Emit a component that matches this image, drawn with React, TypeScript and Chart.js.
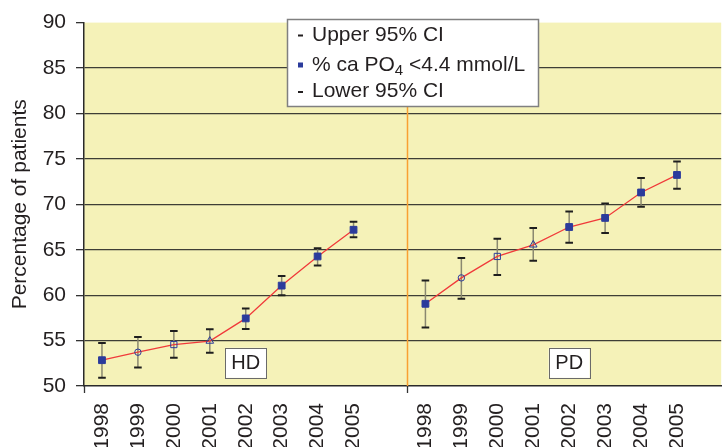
import React, { useEffect, useRef } from 'react';
import { Chart, registerables } from 'chart.js';

Chart.register(...registerables);

// ---- data ----
const categories = ['1998', '1999', '2000', '2001', '2002', '2003', '2004', '2005', '', '1998', '1999', '2000', '2001', '2002', '2003', '2004', '2005'];
const groupLabels = ['HD', 'PD'];
const groupLabelIndex = [4, 13]; // category index under which each group label sits
const groupSeparatorIndex = 8.5;

const hdValues = [52.84, 53.72, 54.56, 54.95, 57.44, 61.05, 64.26, 67.2];
const hdUpper = [54.74, 55.4, 56.05, 56.24, 58.53, 62.1, 65.17, 68.07];
const hdLower = [50.9, 52.04, 53.1, 53.65, 56.27, 59.99, 63.27, 66.38];

const pdValues = [59.05, 61.9, 64.26, 65.54, 67.5, 68.5, 71.3, 73.23];
const pdUpper = [61.6, 64.1, 66.2, 67.4, 69.2, 70.1, 72.9, 74.7];
const pdLower = [56.45, 59.6, 62.23, 63.8, 65.77, 66.85, 69.74, 71.7];

const markerStyles = ['rect', 'circle', 'rect', 'triangle', 'rect', 'rect', 'rect', 'rect'];
const markerFilled = [true, false, false, false, true, true, true, true];

const yMin = 50;
const yMax = 90;
const yStep = 5;

const legendTexts = ['Upper 95% CI', '% ca PO', '4', ' <4.4 mmol/L', 'Lower 95% CI'];

// ---- styles ----
const FONT = '"Liberation Sans", Arial, Helvetica, sans-serif';
const PLOT_BG = '#f5f2b8';
const BLUE = '#2b3b9c';
const RED = '#f03a3a';
const GRID = '#3e3e36';
const ORANGE = '#f9a032';

const values = [...hdValues, null, ...pdValues];
const uppers = [...hdUpper, null, ...pdUpper];
const lowers = [...hdLower, null, ...pdLower];
const styles = [...markerStyles, 'rect', ...markerStyles];
const filled = [...markerFilled, true, ...markerFilled];

export default function App() {
  const canvasRef = useRef<HTMLCanvasElement | null>(null);

  useEffect(() => {
    const canvas = canvasRef.current;
    if (!canvas) return;

    const bgPlugin = {
      id: 'plotBg',
      beforeDraw(chart: any) {
        const { ctx, chartArea } = chart;
        ctx.save();
        ctx.fillStyle = PLOT_BG;
        ctx.fillRect(chartArea.left, chartArea.top, chartArea.right - chartArea.left, chartArea.bottom - chartArea.top);
        ctx.restore();
      },
    };

    const errorPlugin = {
      id: 'errorBars',
      beforeDatasetsDraw(chart: any) {
        const { ctx, chartArea, scales } = chart;
        const xs = scales.x;
        const ys = scales.y;
        ctx.save();
        // separator line
        const sx = Math.round(xs.getPixelForValue(groupSeparatorIndex)) + 0.5;
        ctx.strokeStyle = ORANGE;
        ctx.lineWidth = 1.5;
        ctx.beginPath();
        ctx.moveTo(sx, chartArea.top);
        ctx.lineTo(sx, chartArea.bottom);
        ctx.stroke();

        for (let i = 0; i < values.length; i++) {
          const u = uppers[i];
          const l = lowers[i];
          if (u == null || l == null) continue;
          const x = xs.getPixelForValue(i);
          const yu = ys.getPixelForValue(u);
          const yl = ys.getPixelForValue(l);
          ctx.strokeStyle = '#8a8870';
          ctx.lineWidth = 1.5;
          ctx.beginPath();
          ctx.moveTo(x, yu);
          ctx.lineTo(x, yl);
          ctx.stroke();
          ctx.strokeStyle = '#1e1e1e';
          ctx.lineWidth = 2;
          ctx.beginPath();
          ctx.moveTo(x - 3.8, yu);
          ctx.lineTo(x + 3.8, yu);
          ctx.moveTo(x - 3.8, yl);
          ctx.lineTo(x + 3.8, yl);
          ctx.stroke();
        }
        ctx.restore();
      },
    };

    const overlayPlugin = {
      id: 'overlay',
      afterDraw(chart: any) {
        const { ctx, chartArea, scales } = chart;
        const xs = scales.x;
        const ys = scales.y;
        ctx.save();
        // x-axis tick marks at group boundaries
        ctx.strokeStyle = '#333333';
        ctx.lineWidth = 1.3;
        [-0.5, groupSeparatorIndex].forEach((v) => {
          const px = Math.round(xs.getPixelForValue(v)) + 0.5;
          ctx.beginPath();
          ctx.moveTo(px, chartArea.bottom);
          ctx.lineTo(px, chartArea.bottom + 7);
          ctx.stroke();
        });

        // group label boxes
        ctx.font = `20px ${FONT}`;
        ctx.textAlign = 'center';
        ctx.textBaseline = 'middle';
        groupLabels.forEach((lab, gi) => {
          const cx = xs.getPixelForValue(groupLabelIndex[gi]);
          const cy = ys.getPixelForValue(52.55);
          const w = 41;
          const h = 30;
          ctx.fillStyle = '#ffffff';
          ctx.fillRect(cx - w / 2, cy - h / 2, w, h);
          ctx.strokeStyle = '#6a6a6a';
          ctx.lineWidth = 1;
          ctx.strokeRect(Math.round(cx - w / 2) + 0.5, Math.round(cy - h / 2) + 0.5, w, h);
          ctx.fillStyle = '#231f20';
          ctx.fillText(lab, cx, cy + 1);
        });

        // legend box
        const lx = 287;
        const ly = 19;
        const lw = 251;
        const lh = 87;
        ctx.fillStyle = '#ffffff';
        ctx.fillRect(lx, ly, lw, lh);
        ctx.strokeStyle = '#808080';
        ctx.lineWidth = 1.5;
        ctx.strokeRect(lx + 0.5, ly + 0.5, lw, lh);

        ctx.textAlign = 'left';
        ctx.textBaseline = 'middle';
        ctx.fillStyle = '#231f20';
        const tx = 312;
        const rows = [35, 65, 91.5];
        ctx.font = `21px ${FONT}`;
        // dashes
        ctx.fillRect(298, rows[0] - 0.5, 5, 2);
        ctx.fillRect(298, rows[2] - 0.5, 5, 2);
        ctx.fillText(legendTexts[0], tx, rows[0]);
        ctx.fillText(legendTexts[4], tx, rows[2]);
        // middle row
        ctx.fillStyle = BLUE;
        ctx.fillRect(298, rows[1] - 2.5, 5, 5);
        ctx.fillStyle = '#231f20';
        ctx.fillText(legendTexts[1], tx, rows[1]);
        let cx = tx + ctx.measureText(legendTexts[1]).width;
        ctx.font = `15px ${FONT}`;
        ctx.fillText(legendTexts[2], cx, rows[1] + 6);
        cx += ctx.measureText(legendTexts[2]).width;
        ctx.font = `21px ${FONT}`;
        ctx.fillText(legendTexts[3], cx, rows[1]);
        ctx.restore();
      },
    };

    const chart = new Chart(canvas, {
      type: 'line',
      data: {
        datasets: [
          {
            data: values.map((v, i) => ({ x: i, y: v })) as any,
            borderColor: RED,
            borderWidth: 1.3,
            spanGaps: false,
            pointStyle: styles as any,
            pointRadius: styles.map((s, i) => (filled[i] ? 4.8 : s === 'circle' ? 3.2 : 4.4)) as any,
            pointBackgroundColor: filled.map((f) => (f ? BLUE : 'rgba(0,0,0,0)')) as any,
            pointBorderColor: BLUE,
            pointBorderWidth: 1,
            tension: 0,
          },
        ],
      },
      options: {
        responsive: false,
        animation: false,
        devicePixelRatio: 1,
        layout: { padding: { top: 18, right: 0, left: 0, bottom: 0 } },
        plugins: {
          legend: { display: false },
          tooltip: { enabled: false },
          title: { display: false },
        },
        scales: {
          x: {
            type: 'linear',
            min: -0.5,
            max: 17.23,
            grid: { display: false },
            border: { display: true, color: '#2a2a2a', width: 1.5 },
            afterBuildTicks: (scale: any) => {
              scale.ticks = categories.map((_, i) => ({ value: i }));
            },
            afterFit: (scale: any) => {
              scale.height = 61;
            },
            ticks: {
              autoSkip: false,
              minRotation: 90,
              maxRotation: 90,
              padding: 9,
              color: '#231f20',
              font: { family: FONT, size: 21 },
              callback: (v: any) => categories[Math.round(Number(v))] ?? '',
            },
          },
          y: {
            type: 'linear',
            min: yMin,
            max: yMax,
            afterFit: (scale: any) => {
              scale.width = 84;
            },
            ticks: {
              stepSize: yStep,
              padding: 10,
              color: '#231f20',
              font: { family: FONT, size: 21 },
            },
            grid: {
              color: (c: any) => (c.tick && (c.tick.value === yMax || c.tick.value === yMin) ? 'rgba(0,0,0,0)' : GRID),
              tickColor: '#333333',
              lineWidth: 1.3,
              tickLength: 8,
            },
            border: { display: true, color: '#2a2a2a', width: 1.5 },
            title: {
              display: true,
              text: 'Percentage of patients',
              color: '#231f20',
              font: { family: FONT, size: 21 },
              padding: { top: 8, bottom: 0 },
            },
          },
        },
      },
      plugins: [bgPlugin, errorPlugin, overlayPlugin],
    });

    return () => chart.destroy();
  }, []);

  return (
    <div style={{ position: 'absolute', left: 0, top: 0, width: 727, height: 447, background: '#ffffff' }}>
      <canvas ref={canvasRef} width={727} height={447} style={{ display: 'block' }} />
    </div>
  );
}
